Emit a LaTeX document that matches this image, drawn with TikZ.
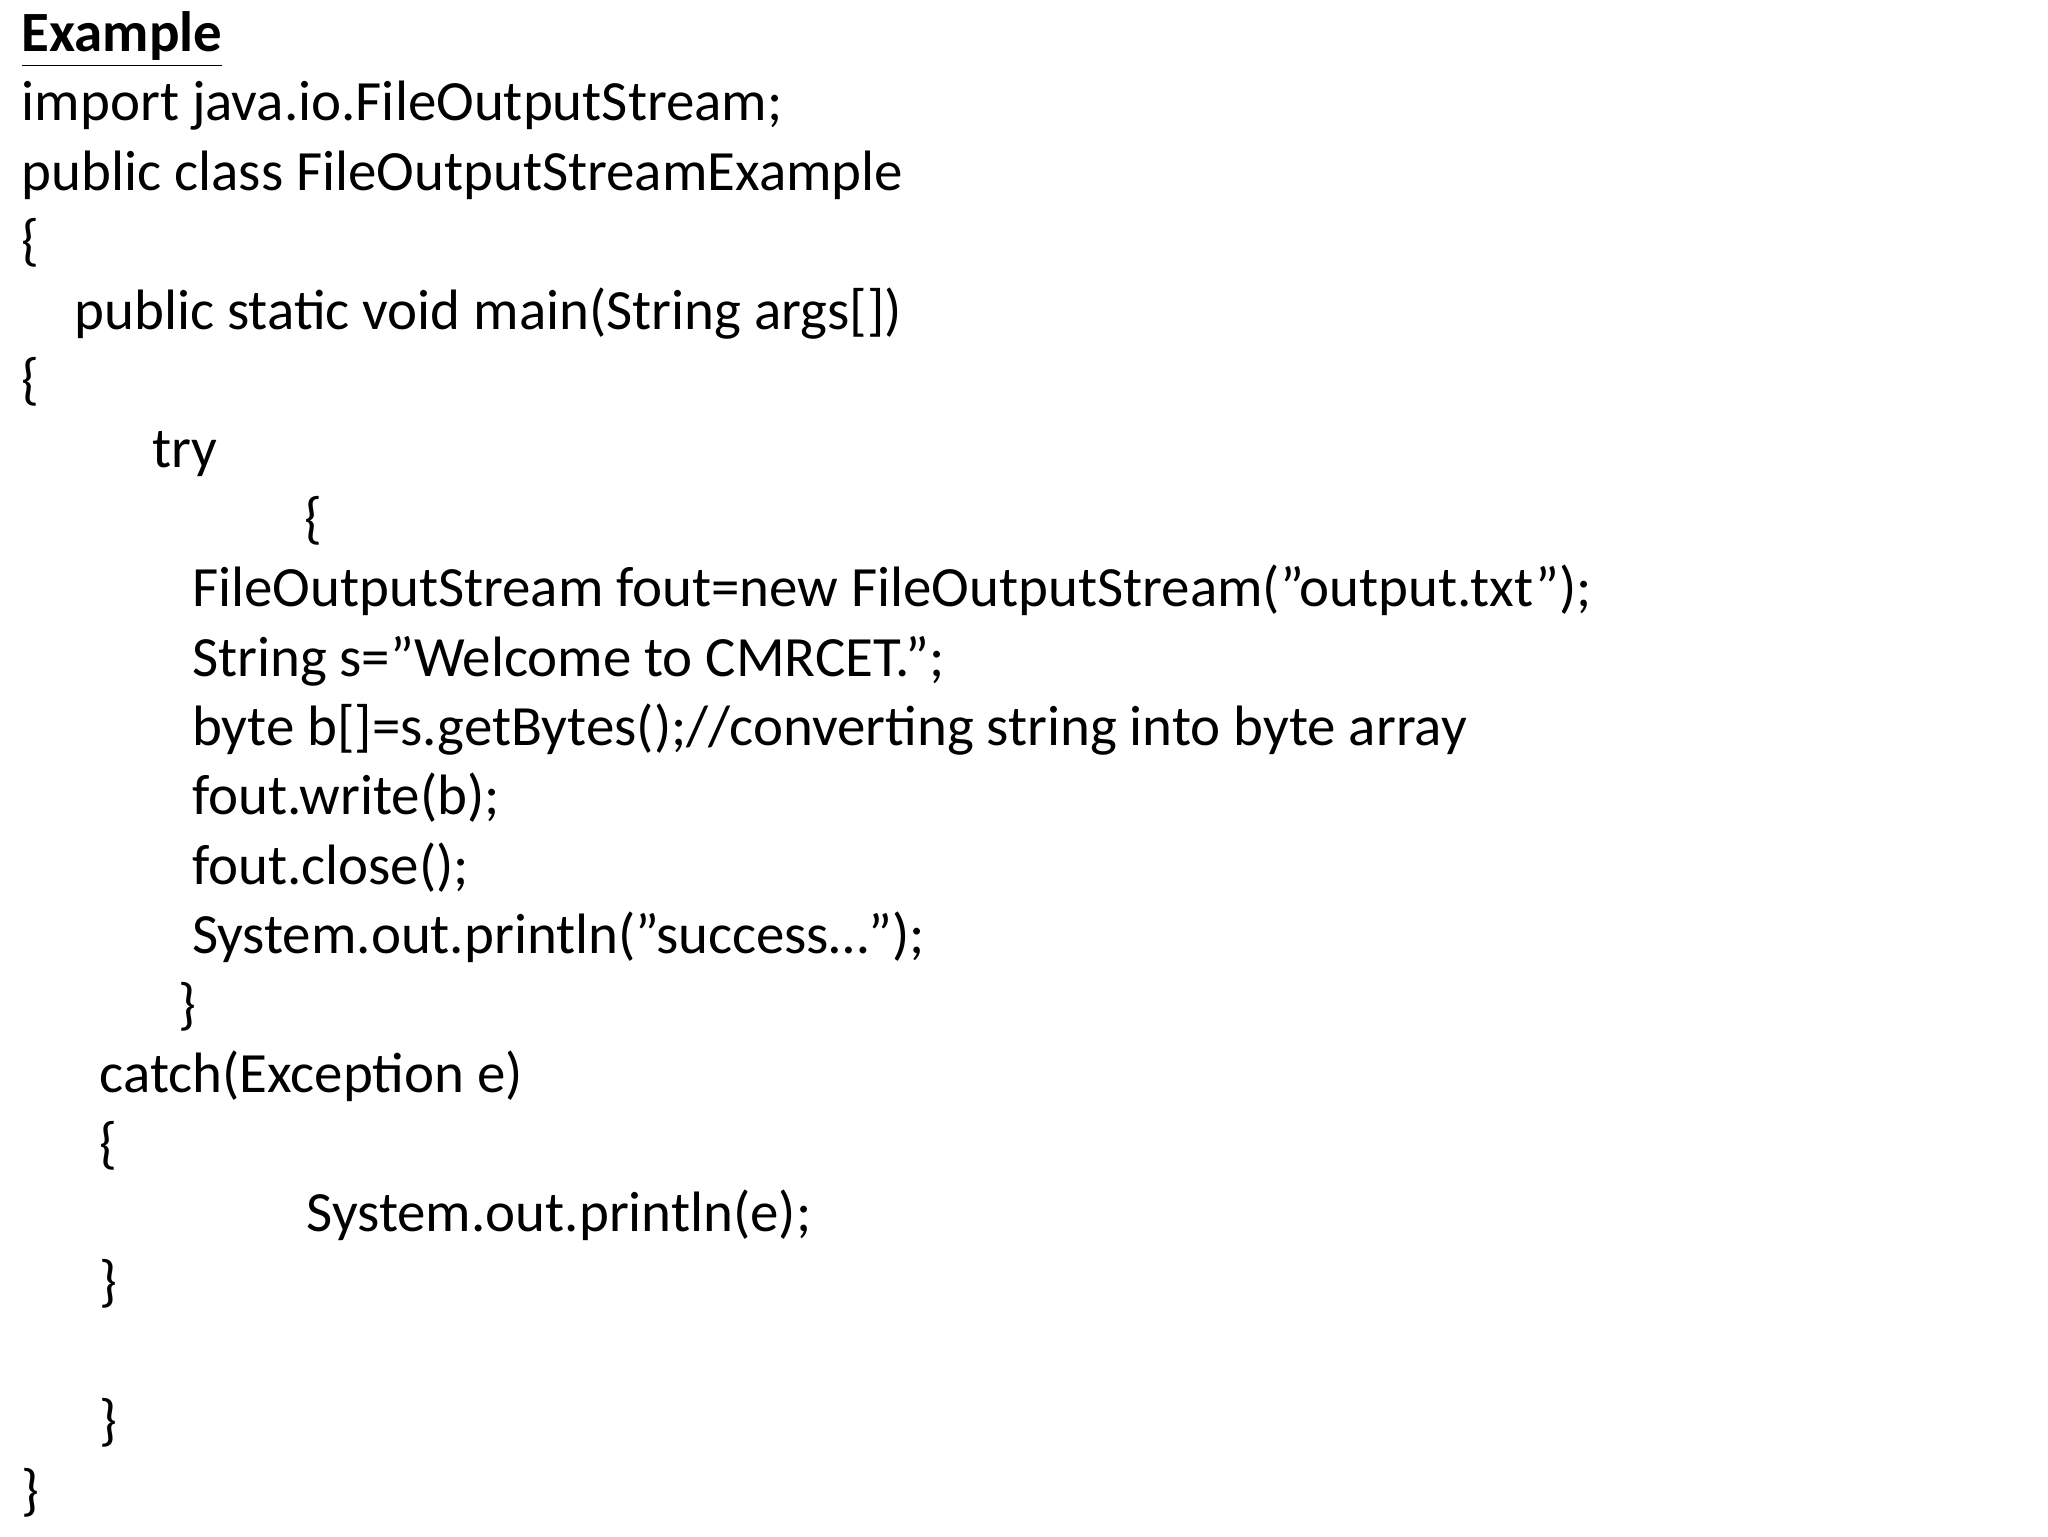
\documentclass[tikz,border=0pt]{standalone}
\usepackage{fontspec}
\setmainfont{Carlito}
\begin{document}
\begin{tikzpicture}[x=0.013196cm,y=-0.013196cm,
  code/.style={anchor=base west,inner sep=0pt,font=\fontsize{16.2}{19}\selectfont}]
\useasboundingbox (0,0) rectangle (1552,1164);
\fill[white] (0,0) rectangle (1552,1164);
\def\ln#1{39+52.6*#1}
\node[code] (l0) at (16,{\ln{0}}) {\textbf{\underline{Example}}};
\node[code] (l1) at (16,{\ln{1}}) {import java.io.FileOutputStream;};
\node[code] (l2) at (16,{\ln{2}}) {public class FileOutputStreamExample};
\node[code] (l3) at (16,{\ln{3}}) {\{};
\node[code] (l4) at (56,{\ln{4}}) {public static void main(String args[])};
\node[code] (l5) at (16,{\ln{5}}) {\{};
\node[code] (l6) at (115,{\ln{6}}) {try};
\node[code] (l7) at (230,{\ln{7}}) {\{};
\node[code] (l8) at (145,{\ln{8}}) {FileOutputStream fout=new FileOutputStream("output.txt");};
\node[code] (l9) at (145,{\ln{9}}) {String s="Welcome to CMRCET.";};
\node[code] (l10) at (145,{\ln{10}}) {byte b[]=s.getBytes();//converting string into byte array};
\node[code] (l11) at (145,{\ln{11}}) {fout.write(b);};
\node[code] (l12) at (145,{\ln{12}}) {fout.close();};
\node[code] (l13) at (145,{\ln{13}}) {System.out.println("success…");};
\node[code] (l14) at (135,{\ln{14}}) {\}};
\node[code] (l15) at (75,{\ln{15}}) {catch(Exception e)};
\node[code] (l16) at (75,{\ln{16}}) {\{};
\node[code] (l17) at (232,{\ln{17}}) {System.out.println(e);};
\node[code] (l18) at (75,{\ln{18}}) {\}};
\node[code] (l20) at (75,{\ln{20}}) {\}};
\node[code] (l21) at (16,{\ln{21}}) {\}};
\end{tikzpicture}
\end{document}
